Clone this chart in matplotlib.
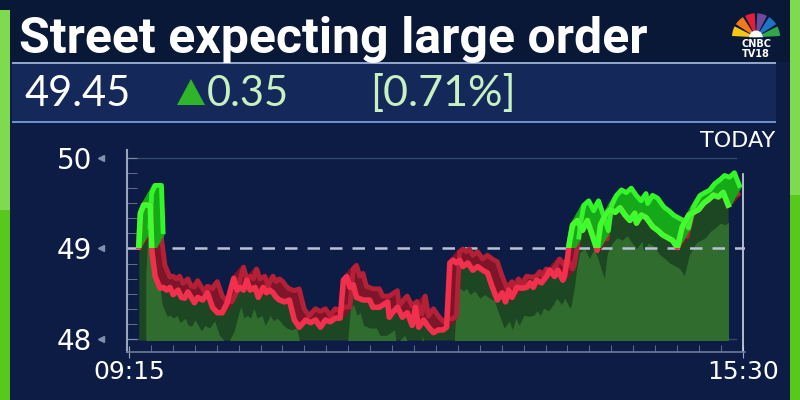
import matplotlib
matplotlib.use("Agg")
import matplotlib.pyplot as plt
import numpy as np
from matplotlib.patches import Rectangle, Polygon, Wedge
from matplotlib.transforms import ScaledTranslation
from matplotlib.ticker import MultipleLocator, FixedLocator

# minutes after 09:15 and traded price
minutes = [6, 7, 9, 13, 14, 16, 19, 21, 23, 25, 27, 30, 32, 34, 36, 38, 40, 42, 45, 48,
           51, 54, 57, 60, 62, 64, 66, 68, 70, 72, 74, 77, 79, 82, 84, 86, 88, 90, 92, 95,
           98, 101, 104, 108, 111, 114, 117, 120, 123, 126, 129, 131, 133, 135, 137, 139, 143, 147, 149, 153,
           158, 159, 161, 164, 167, 170, 173, 175, 177, 180, 183, 186, 189, 192, 194, 196, 198, 200, 202, 204,
           207, 210, 213, 216, 219, 222, 225, 228, 230, 232, 234, 237, 240, 243, 245, 247, 249, 252, 255, 257,
           260, 262, 265, 266, 268, 269, 271, 274, 277, 280, 283, 286, 288, 291, 294, 297, 300, 303, 306, 309,
           310, 313, 316, 320, 323, 326, 329, 332, 335, 338, 342, 345, 348, 351, 354, 357, 360, 363, 366]
price = [49.02, 49.39, 49.48, 49.48, 48.97, 48.69, 48.56, 48.57, 48.54, 48.57, 48.49, 48.54, 48.46, 48.45, 48.52, 48.46, 48.40, 48.46, 48.43, 48.51,
         48.35, 48.29, 48.29, 48.40, 48.54, 48.67, 48.54, 48.57, 48.54, 48.65, 48.54, 48.57, 48.46, 48.57, 48.51, 48.54, 48.51, 48.46, 48.43, 48.41,
         48.43, 48.21, 48.13, 48.21, 48.18, 48.21, 48.13, 48.21, 48.19, 48.23, 48.23, 48.65, 48.69, 48.57, 48.60, 48.46, 48.43, 48.43, 48.35, 48.35,
         48.41, 48.24, 48.29, 48.35, 48.24, 48.29, 48.15, 48.35, 48.13, 48.21, 48.13, 48.07, 48.10, 48.10, 48.13, 48.84, 48.87, 48.84, 48.87, 48.80,
         48.84, 48.76, 48.80, 48.76, 48.73, 48.57, 48.43, 48.51, 48.41, 48.54, 48.46, 48.57, 48.56, 48.57, 48.62, 48.57, 48.65, 48.62, 48.69, 48.76,
         48.69, 48.76, 48.65, 48.69, 48.91, 49.06, 49.26, 49.31, 49.20, 49.31, 49.15, 48.98, 49.26, 49.37, 49.43, 49.40, 49.45, 49.37, 49.31, 49.39,
         49.28, 49.37, 49.34, 49.24, 49.20, 49.15, 49.12, 49.09, 49.01, 49.24, 49.37, 49.40, 49.43, 49.50, 49.54, 49.59, 49.57, 49.62, 49.48]

prev_close = 49.0
base = 47.99
y_ticks = [48, 49, 50]
x_ticks = [0, 375]
x_labels = ["09:15", "15:30"]

title = "Street expecting large order"
last_price = "49.45"
change = "0.35"
change_pct = "[0.71%]"

W, H = 800, 400
fig = plt.figure(figsize=(8, 4), dpi=100)
fig.patch.set_facecolor("#0c1c45")


def box(x, y, w, h, color, z=0, **kw):
    r = Rectangle((x / W, 1 - (y + h) / H), w / W, h / H, transform=fig.transFigure,
                  facecolor=color, edgecolor="none", zorder=z, **kw)
    fig.add_artist(r)
    return r


def ftext(x, y, s, **kw):
    return fig.text(x / W, 1 - y / H, s, **kw)


# background bands
box(0, 0, W, 62, "#0a1838")
box(12, 62, 764, 60, "#14295a")
box(12, 62, 764, 2, "#8ea4c8")
box(12, 121, 764, 2, "#6f8fc8")
# green side bars
box(0, 10, 10, 390, "#58c91c")
box(0, 10, 10, 200, "#80da50")
box(790, 0, 10, 400, "#58c91c")
box(790, 0, 10, 195, "#80da50")

ftext(19, 53, title, color="white", fontsize=36, fontweight="bold",
      family="Roboto", va="baseline")
ftext(24, 106, last_price, color="white", fontsize=30, family="Lato", va="baseline")
fig.add_artist(Polygon([(177 / W, 1 - 105 / H), (205 / W, 1 - 105 / H), (191 / W, 1 - 79 / H)],
                       closed=True, transform=fig.transFigure, facecolor="#2fb52a", edgecolor="none"))
ftext(207, 106, change, color="#c8f0c0", fontsize=30, family="Lato", va="baseline")
ftext(370, 106, change_pct, color="#c8f0c0", fontsize=31, family="Lato", va="baseline")

# logo
lg = fig.add_axes([732 / W, 1 - 38 / H, 48 / W, 30 / H])
lg.set_xlim(-1.6, 1.6)
lg.set_ylim(-0.05, 1.95)
lg.axis("off")
for i, c in enumerate(["#f5c518", "#f07a1c", "#e0203a", "#6a4b9c", "#1e73c8", "#2fa84a"]):
    a0 = 180 - i * 30
    lg.add_patch(Wedge((0, 0), 1.6, a0 - 27, a0 - 3, facecolor=c, edgecolor="none"))
lg.add_patch(Wedge((0, 0), 0.45, 0, 180, facecolor="white", edgecolor="none"))
ftext(756, 44, "CNBC", color="white", fontsize=7, fontweight="bold", ha="center", va="center")
ftext(756, 54, "TV18", color="white", fontsize=7, fontweight="bold", ha="center", va="center")

# chart
ax = fig.add_axes([127 / W, 48 / H, 618 / W, 202 / H])
ax.set_facecolor("none")
ax.set_xlim(-1.2, 376.3)
ax.set_ylim(47.856, 50.088)


def shift(dx, dy):
    return ax.transData + ScaledTranslation(dx / 100, -dy / 100, fig.dpi_scale_trans)


t = np.array(minutes)
p = np.array(price)
# green part: points above previous close plus their neighbours (for the crossings)
up = p >= prev_close
near = up | np.r_[up[1:], False] | np.r_[False, up[:-1]]
pg = np.where(near, p, np.nan)

ax.fill_between(t, p, base, color="#1d4622", lw=0, zorder=1)
lite = ax.fill_between(t, p, base, color="#2f6c2e", lw=0, zorder=2, transform=shift(7, 28))
lite.set_clip_path(Rectangle((t[0], base), t[-1] - t[0], 3, transform=ax.transData))

ax.axhline(prev_close, color="#b9c2d4", lw=1.8, dashes=(5, 4), zorder=2.5)
for yv in (48, 50):
    ax.axhline(yv, xmax=0.985, color="#34476f", lw=1, zorder=0.5)

above = Rectangle((-50, prev_close), 500, 5, transform=ax.transData)
n = 14
for k in range(1, n + 1):
    top = k == n
    ax.plot(t, p, color="#b42038" if top else "#7c1628", lw=3.5,
            transform=shift(0.7 * k, -0.8 * k), zorder=3)
    g, = ax.plot(t, pg, color="#33f52a" if top else "#15a818", lw=3.5,
                 transform=shift(0.8 * k, -1.4 * k), zorder=3.5)
    g.set_clip_path(above)

ax.plot(t, p, color="#f0304c", lw=4, zorder=5)
g, = ax.plot(t, pg, color="#3dff2e", lw=4, zorder=5.5)
g.set_clip_path(above)

# axes decorations
for s in ("top", "right"):
    ax.spines[s].set_visible(False)
ax.spines["left"].set_color("#9aa5bd")
ax.spines["left"].set_linewidth(1.5)
ax.spines["bottom"].set_color("#6d7a9c")
ax.spines["bottom"].set_linewidth(1.2)
ax.axvline(375, ymin=0, ymax=0.88, color="#d0d6e2", lw=1.2)

ax.yaxis.set_major_locator(FixedLocator(y_ticks))
ax.yaxis.set_minor_locator(MultipleLocator(1 / 6))
ax.set_yticklabels([str(v) for v in y_ticks])
ax.xaxis.set_major_locator(FixedLocator(x_ticks))
ax.xaxis.set_minor_locator(FixedLocator(np.linspace(0, 375, 29)))
ax.set_xticklabels(x_labels)
ax.tick_params(axis="y", which="major", direction="in", length=7, color="#7f8aa8",
               labelcolor="white", labelsize=20, pad=25)
ax.tick_params(axis="y", which="minor", direction="in", length=7, color="#6f7a98")
ax.tick_params(axis="x", which="major", direction="inout", length=8, color="#9aa5bd",
               labelcolor="white", labelsize=18, pad=2)
ax.tick_params(axis="x", which="minor", direction="in", length=5, color="#6f7a98")
ax.plot([-17] * len(y_ticks), y_ticks, ls="none", marker="<", ms=5, color="#8090b0", clip_on=False)

ftext(775, 141, "TODAY", color="white", fontsize=16, ha="right", va="center")

fig.savefig("out.png", dpi=100, facecolor=fig.get_facecolor())
